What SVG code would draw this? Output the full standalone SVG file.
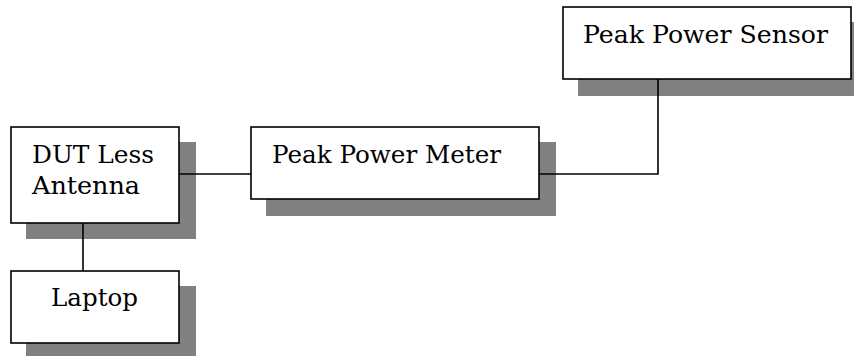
<svg xmlns="http://www.w3.org/2000/svg" width="854" height="356" viewBox="0 0 854 356">
<style>
.shadow{fill:#808080;stroke:none}
.box{fill:#fff;stroke:#000;stroke-width:1.6}
.lbl{font-family:"DejaVu Serif","Liberation Serif",serif;font-size:24px;fill:#000}
.conn{fill:none;stroke:#000;stroke-width:1.6}
</style>
<rect width="854" height="356" fill="#fff"/>
<g id="dut">
<rect class="shadow" x="26" y="142" width="170" height="97"/>
<rect class="box" x="11" y="127" width="168" height="96"/>
<text class="lbl" x="32" y="163" textLength="122" lengthAdjust="spacingAndGlyphs">DUT Less</text>
<text class="lbl" x="32" y="194" textLength="108" lengthAdjust="spacingAndGlyphs">Antenna</text>
</g>
<g id="laptop">
<rect class="shadow" x="26" y="286" width="170" height="72"/>
<rect class="box" x="11" y="271" width="168" height="72"/>
<text class="lbl" x="51" y="306" textLength="87" lengthAdjust="spacingAndGlyphs">Laptop</text>
</g>
<g id="meter">
<rect class="shadow" x="266" y="142" width="290" height="74"/>
<rect class="box" x="251" y="127" width="288" height="72"/>
<text class="lbl" x="272" y="163" textLength="229" lengthAdjust="spacingAndGlyphs">Peak Power Meter</text>
</g>
<g id="sensor">
<rect class="shadow" x="578" y="22" width="290" height="74"/>
<rect class="box" x="563" y="7" width="288" height="72"/>
<text class="lbl" x="583" y="43" textLength="245" lengthAdjust="spacingAndGlyphs">Peak Power Sensor</text>
</g>
<g id="connectors">
<path class="conn" d="M179 174H251"/>
<path class="conn" d="M539 174H658V79"/>
<path class="conn" d="M83 223V271"/>
</g>
</svg>
